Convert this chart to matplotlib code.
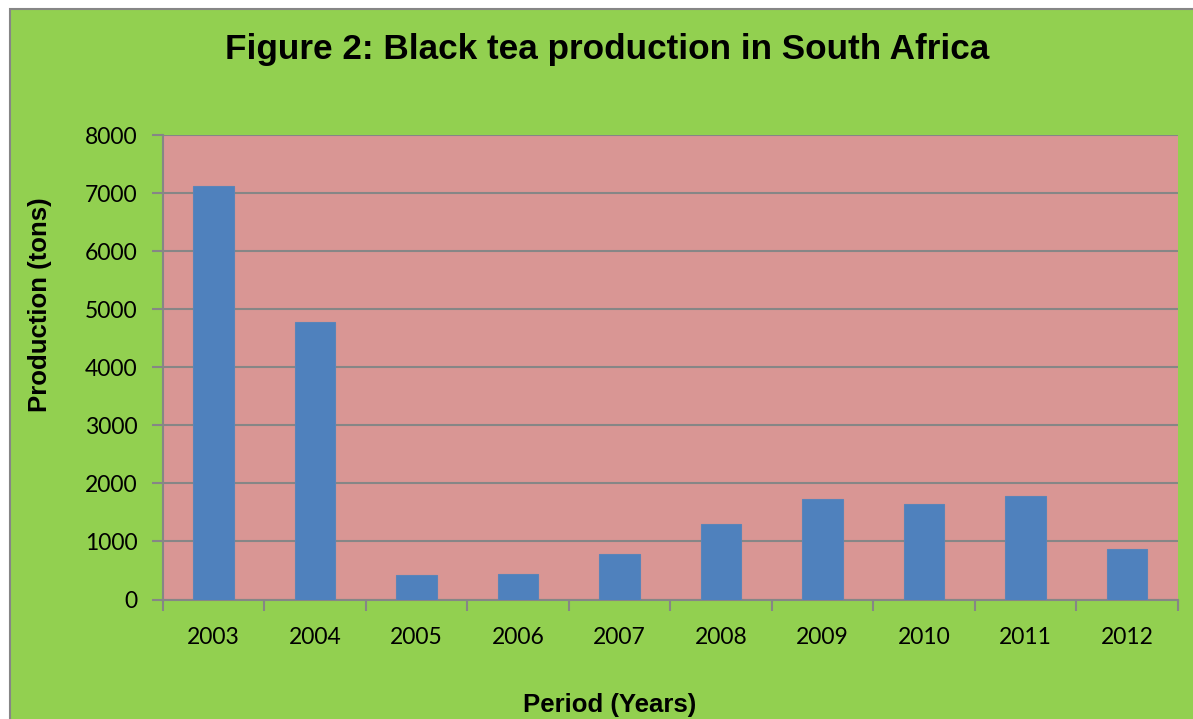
import matplotlib.pyplot as plt
from matplotlib.patches import Rectangle

years = ['2003', '2004', '2005', '2006', '2007', '2008', '2009', '2010', '2011', '2012']
production = [7130, 4780, 420, 440, 780, 1305, 1731, 1645, 1783, 865]
yticks = [0, 1000, 2000, 3000, 4000, 5000, 6000, 7000, 8000]

W, H = 1193, 719
fig = plt.figure(figsize=(W / 100, H / 100), dpi=100)
fig.patch.set_facecolor('white')

# green chart area with grey frame (runs past right/bottom edge)
fig.patches.append(Rectangle((10 / W, -0.01), 1.01 - 10 / W, 1.01 - 9 / H,
                             transform=fig.transFigure, facecolor='#92D050',
                             edgecolor='#868686', linewidth=1.5, zorder=-5))

ax = fig.add_axes([162.7 / W, 1 - 599.5 / H, (1177.7 - 162.7) / W, (599.5 - 135) / H])
ax.set_facecolor('#D99694')

x = range(len(years))
ax.bar(x, production, width=0.4, color='#4F81BD', edgecolor='#5B84B8', linewidth=0.8, zorder=3)

ax.set_xlim(-0.5, len(years) - 0.5)
ax.set_ylim(0, 8000)
ax.set_yticks(yticks)
ax.set_yticklabels([str(v) for v in yticks], fontsize=16.5, family='Lato')
ax.yaxis.grid(True, color='#868686', linewidth=1.5, zorder=1)

ax.set_xticks(list(x))
ax.set_xticklabels(years, fontsize=16.5, family='Lato')
ax.set_xticks([i - 0.5 for i in range(len(years) + 1)], minor=True)
ax.tick_params(axis='x', which='major', length=0, pad=20)
ax.tick_params(axis='x', which='minor', length=8, width=1.5, color='#868686', direction='out')
ax.tick_params(axis='y', length=8, width=1.5, color='#868686', pad=10)

for side in ['top', 'right']:
    ax.spines[side].set_visible(False)
for side in ['left', 'bottom']:
    ax.spines[side].set_color('#868686')
    ax.spines[side].set_linewidth(1.5)

fig.text(607 / W, 1 - 50 / H, 'Figure 2: Black tea production in South Africa',
         ha='center', va='center', fontsize=25.3, fontweight='bold', family='Liberation Sans')
fig.text(610 / W, 1 - 705 / H, 'Period (Years)', ha='center', va='center',
         fontsize=18.5, fontweight='bold', family='Liberation Sans')
fig.text(40 / W, 1 - 305 / H, 'Production (tons)', ha='center', va='center', rotation=90,
         fontsize=18.5, fontweight='bold', family='Liberation Sans')

fig.savefig('out.png', dpi=100)
